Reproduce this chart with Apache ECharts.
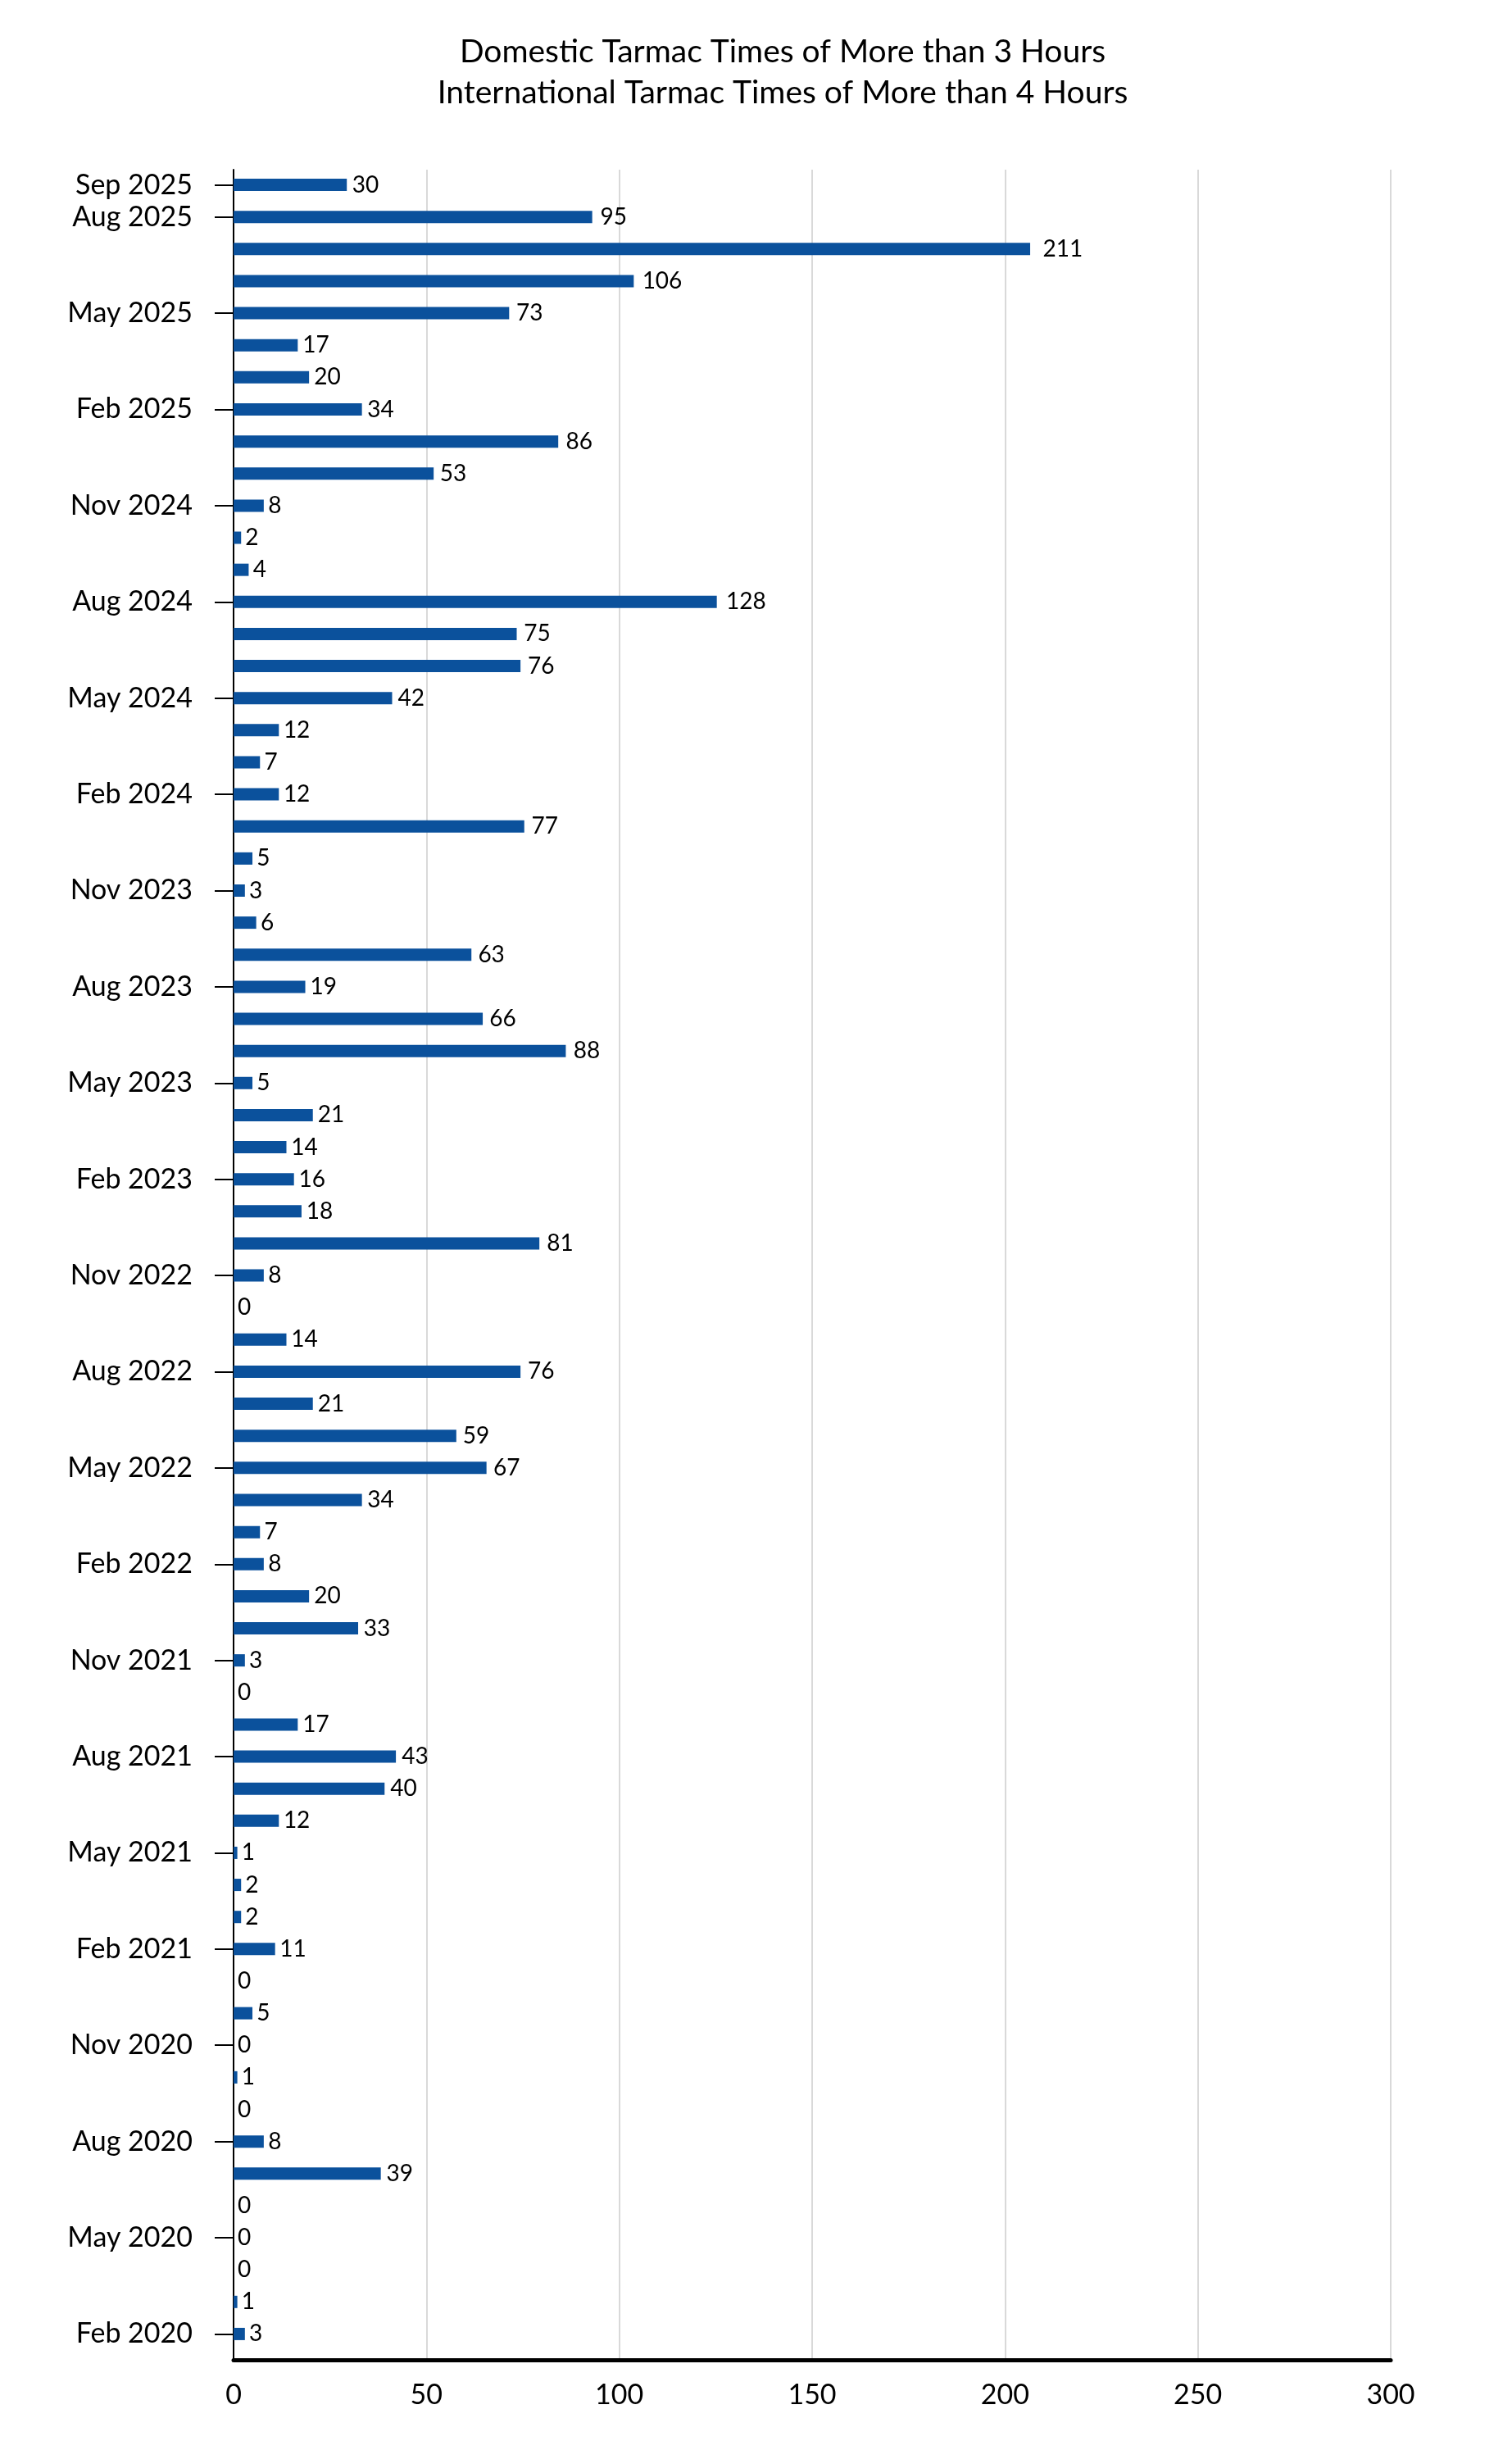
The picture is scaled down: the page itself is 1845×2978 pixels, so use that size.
<!DOCTYPE html>
<html>
<head>
<meta charset="utf-8">
<script src="https://cdn.jsdelivr.net/npm/echarts@6/dist/echarts.min.js"></script>
<style>
html,body{margin:0;padding:0;background:#fff;}
#chart{width:1845px;height:2978px;}
</style>
</head>
<body>
<div id="chart"></div>
<script>
// Months in chronological order (Feb 2020 .. Sep 2025)
const months = [
 "Feb 2020","Mar 2020","Apr 2020","May 2020","Jun 2020","Jul 2020","Aug 2020","Sep 2020","Oct 2020","Nov 2020","Dec 2020",
 "Jan 2021","Feb 2021","Mar 2021","Apr 2021","May 2021","Jun 2021","Jul 2021","Aug 2021","Sep 2021","Oct 2021","Nov 2021","Dec 2021",
 "Jan 2022","Feb 2022","Mar 2022","Apr 2022","May 2022","Jun 2022","Jul 2022","Aug 2022","Sep 2022","Oct 2022","Nov 2022","Dec 2022",
 "Jan 2023","Feb 2023","Mar 2023","Apr 2023","May 2023","Jun 2023","Jul 2023","Aug 2023","Sep 2023","Oct 2023","Nov 2023","Dec 2023",
 "Jan 2024","Feb 2024","Mar 2024","Apr 2024","May 2024","Jun 2024","Jul 2024","Aug 2024","Sep 2024","Oct 2024","Nov 2024","Dec 2024",
 "Jan 2025","Feb 2025","Mar 2025","Apr 2025","May 2025","Jun 2025","Jul 2025","Aug 2025","Sep 2025"
];
const tarmacDelays = [
 3,1,0,0,0,39,8,0,1,0,5,
 0,11,2,2,1,12,40,43,17,0,3,33,
 20,8,7,34,67,59,21,76,14,0,8,81,
 18,16,14,21,5,88,66,19,63,6,3,5,
 77,12,7,12,42,76,75,128,4,2,8,53,
 86,34,20,17,73,106,211,95,30
];
const xTicks = [0,50,100,150,200,250,300];
const titleLines = ["Domestic Tarmac Times of More than 3 Hours","International Tarmac Times of More than 4 Hours"];

const FONT = "Lato";
const lastIdx = months.length - 1;
const showLabel = (i) => i % 3 === 0 || i === lastIdx;

// bars in the reference are drawn on a slightly wider scale than the gridlines
const barAxisMax = 306.5;
const barData = tarmacDelays.map(v => ({value:v, label:{distance: 5 + v*0.05}}));

const chart = echarts.init(document.getElementById('chart'), null, {renderer:'canvas'});
chart.setOption({
  backgroundColor:'#ffffff',
  animation:false,
  textStyle:{fontFamily:FONT},
  title:{
    text: titleLines.join('\n'),
    left: 950, top: 33, textAlign:'center',
    textStyle:{fontFamily:FONT, fontSize:39, fontWeight:'normal', color:'#000', lineHeight:50}
  },
  grid:[
    {left:285, right:148, top:207, bottom:99, containLabel:false},
    {left:285, right:148, top:206, bottom:111, containLabel:false}
  ],
  xAxis:[
    {type:'value', gridIndex:0, min:xTicks[0], max:xTicks[xTicks.length-1], interval:50,
     axisLine:{show:true, lineStyle:{color:'#000', width:5}},
     axisTick:{show:false},
     axisLabel:{fontFamily:FONT, fontSize:34, color:'#000', margin:26},
     splitLine:{show:true, lineStyle:{color:'#d9d9d9', width:2}}},
    {type:'value', gridIndex:1, min:0, max:barAxisMax,
     show:false, splitLine:{show:false}}
  ],
  yAxis:[
    {type:'category', gridIndex:0, data:months,
     axisLine:{show:true, lineStyle:{color:'#000', width:2}},
     axisTick:{show:false}, axisLabel:{show:false}, splitLine:{show:false}},
    {type:'category', gridIndex:1, data:months,
     axisLine:{show:false},
     axisTick:{show:true, alignWithLabel:true, length:23, lineStyle:{color:'#000', width:2},
               interval:(i)=>showLabel(i)},
     axisLabel:{show:true, fontFamily:FONT, fontSize:34, color:'#000', margin:50,
                interval:(i)=>showLabel(i)},
     splitLine:{show:false}}
  ],
  series:[{
    type:'bar', xAxisIndex:1, yAxisIndex:1,
    data: barData,
    barWidth:15,
    itemStyle:{color:'#0b519c'},
    label:{show:true, position:'right', distance:5, fontFamily:FONT, fontSize:28, color:'#000'}
  }]
});
</script>
</body>
</html>
